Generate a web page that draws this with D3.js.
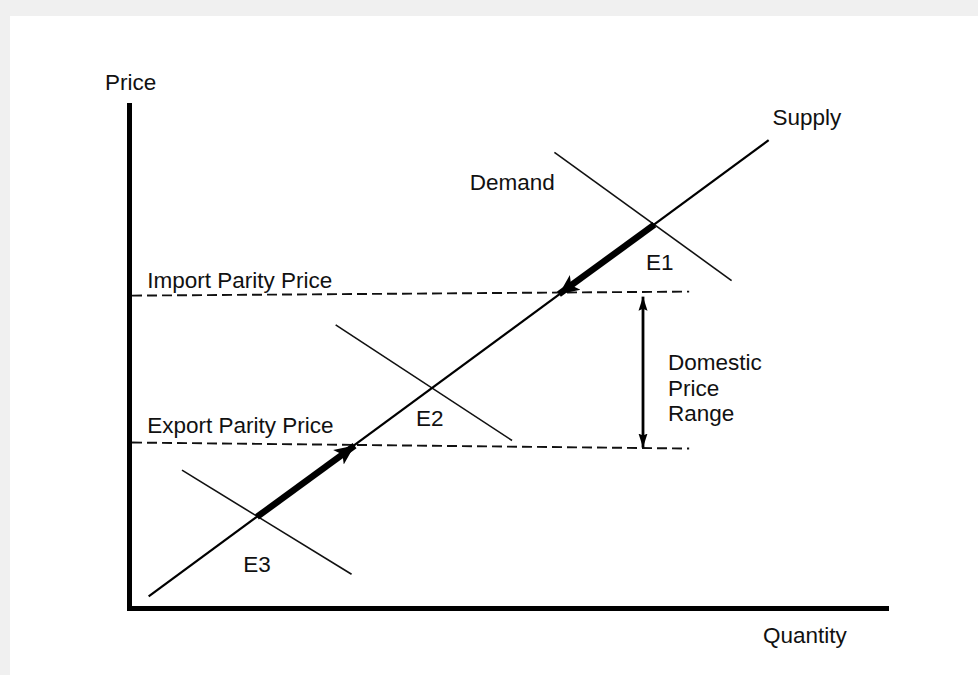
<!DOCTYPE html>
<html>
<head>
<meta charset="utf-8">
<script src="https://cdn.jsdelivr.net/npm/d3@7"></script>
<style>
  html, body { margin: 0; padding: 0; background: #f0f0f0; }
  #wrapper { position: absolute; left: 10px; top: 16px; width: 968px; height: 659px; background: #fff; }
  text { font-family: "Liberation Sans", Arial, sans-serif; font-size: 22.5px; fill: #111; }
</style>
</head>
<body>
<div id="wrapper"></div>
<script>
// diagram units: quantity 0-100, price 0-100
var supplyLine = [[2.6, 2.3], [84.5, 93.0]];
var demandLines = [
  [[56.2, 90.6], [79.6, 65.1]],
  [[27.3, 56.3], [50.6, 33.3]],
  [[7.0, 27.4], [29.4, 6.7]]
];
var parityLines = [
  [[0.4, 62.1], [74.0, 62.9]],
  [[0.4, 32.9], [74.0, 31.7]]
];
var moveArrows = [
  [[69.4, 76.2], [56.8, 62.4]],
  [[16.9, 18.1], [29.8, 32.3]]
];
var rangeArrow = [[67.9, 61.9], [67.9, 31.9]];
var labelText = ["Supply", "Demand", "E1", "E2", "E3", "Import Parity Price", "Export Parity Price", "Domestic", "Price", "Range"];
var labelAt = [[85.0, 96.0], [45.0, 83.2], [68.3, 67.2], [37.9, 36.1], [15.1, 7.2], [2.4, 63.6], [2.4, 34.7], [71.2, 47.3], [71.2, 42.2], [71.2, 37.2]];

var dimensions = {
  width: 968,
  height: 659,
  margin: { top: 89, right: 92, bottom: 67, left: 119 }
};
dimensions.boundedWidth = dimensions.width - dimensions.margin.left - dimensions.margin.right;
dimensions.boundedHeight = dimensions.height - dimensions.margin.top - dimensions.margin.bottom;

var svg = d3.select('#wrapper')
  .append('svg')
  .attr('width', dimensions.width)
  .attr('height', dimensions.height);

var bounds = svg.append('g')
  .attr('transform', 'translate(' + dimensions.margin.left + ',' + dimensions.margin.top + ')');

var xScale = d3.scaleLinear().domain([0, 100]).range([0, dimensions.boundedWidth]);
var yScale = d3.scaleLinear().domain([0, 100]).range([dimensions.boundedHeight, 0]);

var defs = svg.append('defs');
defs.append('marker')
  .attr('id', 'fat-head')
  .attr('markerUnits', 'userSpaceOnUse')
  .attr('viewBox', '0 -10 22 20')
  .attr('refX', 20).attr('refY', 0)
  .attr('markerWidth', 22).attr('markerHeight', 20)
  .attr('orient', 'auto')
  .append('path')
  .attr('d', 'M0,-9L20,0L0,9L5,0Z')
  .attr('fill', '#000');
defs.append('marker')
  .attr('id', 'thin-head')
  .attr('markerUnits', 'userSpaceOnUse')
  .attr('viewBox', '0 -5 15 10')
  .attr('refX', 14).attr('refY', 0)
  .attr('markerWidth', 15).attr('markerHeight', 10)
  .attr('orient', 'auto-start-reverse')
  .append('path')
  .attr('d', 'M0,-4.5L14,0L0,4.5L2,0Z')
  .attr('fill', '#000');

var line = d3.line()
  .x(function (d) { return xScale(d[0]); })
  .y(function (d) { return yScale(d[1]); });

// axes: plain heavy lines
var xAxis = bounds.append('g')
  .attr('transform', 'translate(0,' + dimensions.boundedHeight + ')')
  .call(d3.axisBottom(xScale).ticks(0).tickSizeOuter(0));
var yAxis = bounds.append('g')
  .call(d3.axisLeft(yScale).ticks(0).tickSizeOuter(0));
bounds.selectAll('.domain')
  .attr('stroke', '#000')
  .attr('stroke-width', 5)
  .attr('stroke-linecap', 'square');

bounds.append('text')
  .attr('x', -24)
  .attr('y', -15)
  .text('Price');
bounds.append('text')
  .attr('x', dimensions.boundedWidth - 123)
  .attr('y', dimensions.boundedHeight + 35)
  .text('Quantity');

bounds.selectAll('.parity')
  .data(parityLines)
  .enter()
  .append('path')
  .attr('class', 'parity')
  .attr('d', line)
  .attr('fill', 'none')
  .attr('stroke', '#111')
  .attr('stroke-width', 1.9)
  .attr('stroke-dasharray', '10 5');

bounds.selectAll('.demand')
  .data(demandLines)
  .enter()
  .append('path')
  .attr('class', 'demand')
  .attr('d', line)
  .attr('stroke', '#111')
  .attr('stroke-width', 1.6);

bounds.append('path')
  .attr('d', line(supplyLine))
  .attr('stroke', '#000')
  .attr('stroke-width', 2.2);

bounds.selectAll('.move')
  .data(moveArrows)
  .enter()
  .append('path')
  .attr('class', 'move')
  .attr('d', line)
  .attr('stroke', '#000')
  .attr('stroke-width', 6.5)
  .attr('marker-end', 'url(#fat-head)');

bounds.append('path')
  .attr('d', line(rangeArrow))
  .attr('stroke', '#000')
  .attr('stroke-width', 2.8)
  .attr('marker-start', 'url(#thin-head)')
  .attr('marker-end', 'url(#thin-head)');

bounds.selectAll('.label')
  .data(labelText)
  .enter()
  .append('text')
  .attr('class', 'label')
  .attr('x', function (d, i) { return xScale(labelAt[i][0]); })
  .attr('y', function (d, i) { return yScale(labelAt[i][1]); })
  .text(function (d) { return d; });
</script>
</body>
</html>
